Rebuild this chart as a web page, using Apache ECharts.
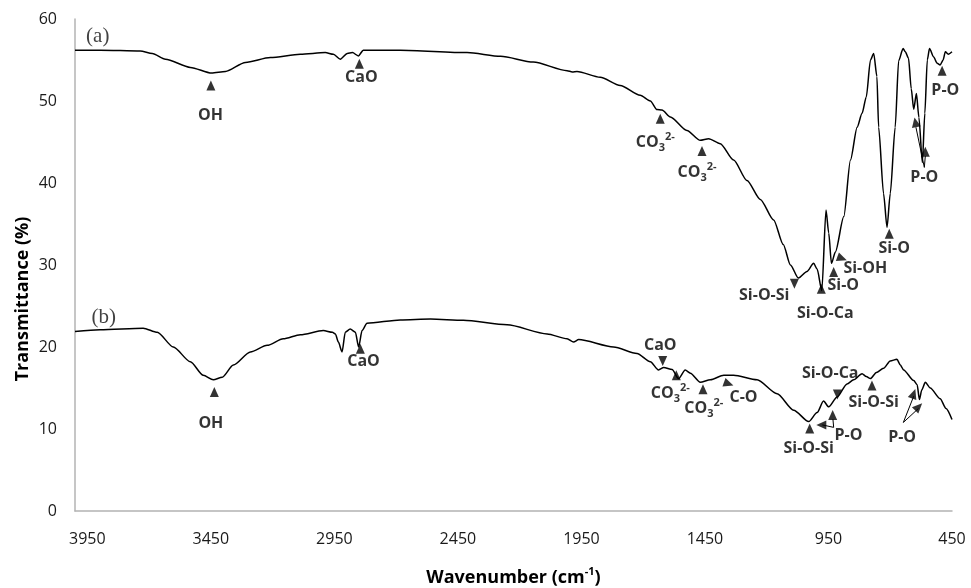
<!DOCTYPE html>
<html>
<head>
<meta charset="utf-8">
<script src="https://cdn.jsdelivr.net/npm/echarts@6/dist/echarts.min.js"></script>
<style>
html,body{margin:0;padding:0;background:#fff}
#main{width:971px;height:588px}
</style>
</head>
<body>
<div id="main"></div>
<script>
// spectrum (a)
var waveA = [4000,3898,3736,3687,3634,3533,3447,3391,3310,3209,3088,2987,2954,2926,2898,2877,2853,2833,2683,2413,2277,2145,2008,1987,1968,1874,1793,1712,1671,1644,1624,1590,1523,1469,1435,1388,1334,1280,1226,1172,1133,1104,1072,1037,1010,996,977,960,949,938,922,888,861,834,814,797,780,767,754,747,727,713,700,680,666,648,639,626,615,605,594,584,570,560,550,541,525,510,498,486,477,465,450];
var transA = [56.2,56.2,56.1,55.8,55.1,54.1,53.4,53.6,54.7,55.3,55.7,55.9,55.7,55.1,55.8,55.9,55.5,56.2,56.2,55.9,55.45,54.75,53.7,53.55,53.6,52.9,51.9,50.7,50.0,48.95,48.9,48.05,46.4,45.2,45.4,44.8,42.8,40.3,38.0,35.5,32.5,30.0,28.4,29.2,30.2,29.5,26.9,36.7,33.9,30.2,31.6,35.9,42.8,46.8,48.5,50.5,55.0,55.8,53.0,46.8,38.7,34.6,38.7,46.8,54.9,56.4,56.0,55.2,51.5,49.0,50.9,48.0,42.5,48.5,55.0,56.4,55.4,54.6,54.4,55.0,56.0,55.7,56.0];

// spectrum (b)
var waveB = [4000,3898,3724,3667,3602,3533,3481,3440,3404,3359,3290,3222,3157,3088,2995,2958,2946,2934,2919,2906,2886,2865,2852,2838,2818,2683,2561,2428,2251,2089,2008,1982,1961,1820,1725,1671,1638,1617,1583,1557,1530,1509,1469,1428,1374,1334,1239,1158,1091,1030,996,970,949,915,875,848,814,797,780,756,727,700,673,659,646,605,591,582,572,558,538,498,474,450];
var transB = [21.9,22.1,22.3,21.8,20.0,18.2,16.55,16.0,16.3,17.8,19.4,20.2,21.0,21.5,22.0,21.8,21.6,20.6,19.4,21.8,22.2,21.8,20.0,22.0,22.9,23.3,23.4,23.25,22.7,21.6,21.0,20.6,20.9,20.0,19.2,18.2,17.2,17.5,17.25,16.15,17.2,16.8,15.7,16.0,16.55,16.55,16.0,14.3,12.3,10.9,12.0,13.4,12.7,13.9,15.5,16.0,16.75,16.4,16.15,16.9,17.4,18.3,18.5,17.8,17.2,15.9,15.4,13.6,14.8,15.7,15.0,13.7,12.5,11.15];

var xTicks = [450,950,1450,1950,2450,2950,3450,3950];

// band markers: wavenumber, transmittance, pointing angle (deg)
var markers = [
  [3450,51.9,0],[2849,54.55,0],[1631,47.85,0],[1462,43.9,0],[1088,27.7,180],[979,27.1,0],
  [929,29.15,0],[895,30.8,-110],[704,33.8,0],[490,53.7,0],[598,47.4,11],[558,43.8,0],
  [3436,14.5,0],[2845,19.8,0],[1621,18.3,180],[1566,16.55,0],[1458,14.85,0],[1354,15.5,-110],
  [1026,10.05,0],[979,10.5,90],[933,11.7,0],[914,14.2,180],[774,15.3,0],[605,14.3,-19],[585,12.7,-45]
];

// band labels
var bandLabels = [
  [3452,48.2,'OH'],[2841,52.85,'CaO'],[1651,45.0,'CO3'],[1482,41.3,'CO3'],[1210,26.3,'Si-O-Si'],
  [963,24.1,'Si-O-Ca'],[890,27.5,'Si-O'],[801,29.6,'Si-OH'],[684,32.0,'Si-O'],[477,51.3,'P-O'],[562,40.7,'P-O'],
  [3450,10.65,'OH'],[2832,18.2,'CaO'],[1631,20.2,'CaO'],[1590,14.3,'CO3'],[1455,12.5,'CO3'],[1294,13.8,'C-O'],
  [1030,7.6,'Si-O-Si'],[869,9.2,'P-O'],[943,16.75,'Si-O-Ca'],[767,13.3,'Si-O-Si'],[652,9.0,'P-O']
];

var panelLabels = [[3908,57.9,'(a)'],[3884,23.65,'(b)']];

// leader lines from P-O labels to their markers
var leaders = [
  [[562,41.9],[596,46.8]],[[562,41.9],[558,43.3]],
  [[929,10.2],[975,10.5]],[[929,10.2],[932,11.2]],
  [[647,10.8],[605,14.0]],[[647,10.8],[586,12.5]]
];

function zip(w, t){
  var out = [];
  for (var i = 0; i < w.length; i++) out.push([w[i], t[i]]);
  return out;
}

function fmtBand(p){
  var t = p.data.text;
  if (t == 'CO3') return '{n|CO}{sub|3}{sup|2-}';
  return '{n|' + t + '}';
}

var series = [
  {type:'line', data:zip(waveA, transA), showSymbol:false, smooth:0.25, smoothMonotone:'x',
   lineStyle:{color:'#000', width:1.5}, z:2},
  {type:'line', data:zip(waveB, transB), showSymbol:false, smooth:0.25, smoothMonotone:'x',
   lineStyle:{color:'#000', width:1.5}, z:2},
  {type:'scatter', symbol:'triangle', symbolSize:[9,10], itemStyle:{color:'#000'}, z:4,
   data:markers.map(function(m){ return {value:[m[0], m[1]], symbolRotate:m[2]}; })},
  {type:'scatter', symbolSize:0, z:5,
   data:bandLabels.map(function(l){ return {value:[l[0], l[1]], text:l[2]}; }),
   label:{show:true, position:'inside', formatter:fmtBand,
     rich:{
       n:{fontFamily:'Open Sans', fontWeight:'bold', fontSize:16, color:'#000', lineHeight:22},
       sub:{fontFamily:'Open Sans', fontWeight:'bold', fontSize:11, color:'#000', verticalAlign:'bottom'},
       sup:{fontFamily:'Open Sans', fontWeight:'bold', fontSize:11, color:'#000', verticalAlign:'top'}
     }}},
  {type:'scatter', symbolSize:0, z:5,
   data:panelLabels.map(function(l){ return {value:[l[0], l[1]], text:l[2]}; }),
   label:{show:true, position:'inside', formatter:function(p){ return p.data.text; },
     fontFamily:'Liberation Serif', fontSize:21, color:'#111'}}
];

leaders.forEach(function(seg){
  series.push({type:'line', data:seg, showSymbol:false, lineStyle:{color:'#000', width:1}, z:3});
});

var myChart = echarts.init(document.getElementById('main'));
var option = {
  animation:false,
  backgroundColor:'#fff',
  grid:{left:75, right:19, top:19, bottom:77, outerBoundsMode:'none'},
  xAxis:{
    type:'value', min:450, max:4000, inverse:true,
    name:'Wavenumber (cm{sup|-1})', nameLocation:'middle', nameGap:55,
    nameTextStyle:{fontFamily:'Open Sans', fontWeight:'bold', fontSize:18, color:'#000', lineHeight:24,
      rich:{sup:{fontFamily:'Open Sans', fontWeight:'bold', fontSize:11, color:'#000', verticalAlign:'top'}}},
    axisLine:{show:true, lineStyle:{color:'#b3b3b3', width:1.5}},
    axisTick:{show:false},
    splitLine:{show:false},
    axisLabel:{customValues:xTicks, margin:20, fontFamily:'Open Sans', fontSize:16, color:'#1a1a1a',
      formatter:function(v){ return String(v); }}
  },
  yAxis:{
    type:'value', min:0, max:60, interval:10,
    axisLine:{show:true, lineStyle:{color:'#b3b3b3', width:1.5}},
    axisTick:{show:false},
    splitLine:{show:false},
    axisLabel:{margin:18, fontFamily:'Open Sans', fontSize:16, color:'#1a1a1a'}
  },
  graphic:[{
    type:'text', x:23, y:299, rotation:Math.PI/2,
    style:{text:'Transmittance (%)', fontFamily:'Open Sans', fontWeight:'bold', fontSize:18, fill:'#000',
      align:'center', verticalAlign:'middle'}
  }],
  series:series
};
myChart.setOption(option);
</script>
</body>
</html>
